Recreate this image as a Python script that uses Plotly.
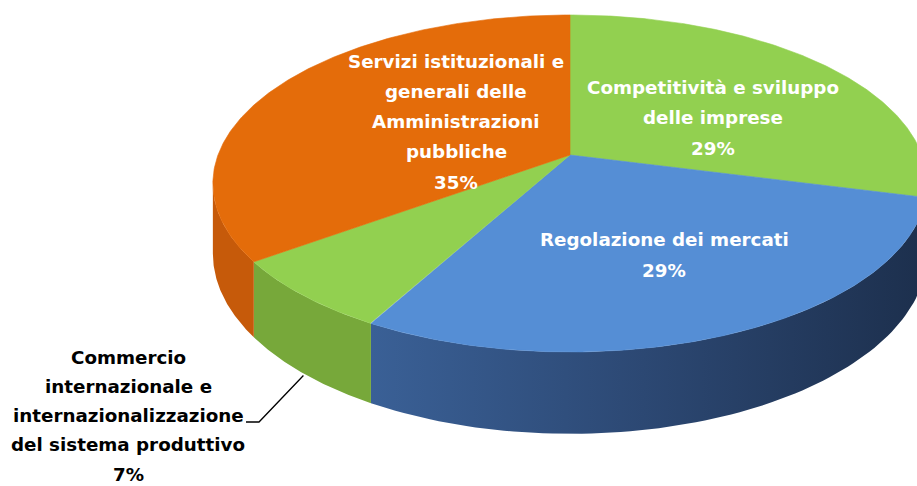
import numpy as np
import plotly.graph_objects as go

# ---------------- data ----------------
categories = [
    "Competitività e sviluppo delle imprese",
    "Regolazione dei mercati",
    "Commercio internazionale e internazionalizzazione del sistema produttivo",
    "Servizi istituzionali e generali delle Amministrazioni pubbliche",
]
values = [29, 29, 7, 35]
label_lines = [
    ["Competitività e sviluppo", "delle imprese"],
    ["Regolazione dei mercati"],
    ["Commercio", "internazionale e", "internazionalizzazione", "del sistema produttivo"],
    ["Servizi istituzionali e", "generali delle", "Amministrazioni", "pubbliche"],
]

# ---------------- style / layout ----------------
top_colors = ["#92D050", "#558ED5", "#92D050", "#E46C0A"]
side_colors = ["#79AD3C", None, "#77A83A", "#C65A0A"]
blue_side_scale = [[0, "#3A6096"], [0.5, "#2C4873"], [1, "#1D304E"]]
label_font_colors = ["white", "white", "black", "white"]
label_anchor = [(713, 87), (664, 239), (128, 357), (456, 61)]
label_spacing = [30.5, 31, 29.3, 30.3]
FONT = dict(family="DejaVu Sans", size=18.3, weight="bold")

W, H = 917, 486
CX, CY = 570, 155       # apex of the pie on screen
A, B = 352, 163.7       # horizontal / vertical radii
K = 0.169               # perspective factor
T = 68                  # thickness


def proj(theta_deg, drop=0.0):
    t = np.radians(theta_deg)
    x, y = np.sin(t), np.cos(t)
    s = 1.0 / (1.0 + K * y)
    return CX + A * x * s, CY - B * y * s + drop * s


total = float(sum(values))
bounds = np.concatenate([[0], np.cumsum(values)]) / total * 360.0
theta_r = np.degrees(np.arccos(-K))
theta_l = 360 - theta_r

fig = go.Figure()

# side walls (front, visible part)
for i in range(len(values)):
    a, b = max(bounds[i], theta_r), min(bounds[i + 1], theta_l)
    if b <= a:
        continue
    th = np.linspace(a, b, 80)
    xt, yt = proj(th)
    xb, yb = proj(th[::-1], T)
    xs = np.concatenate([xt, xb, xt[:1]])
    ys = np.concatenate([yt, yb, yt[:1]])
    if side_colors[i] is None:
        fig.add_trace(go.Scatter(
            x=xs, y=ys, mode="lines", fill="toself", line=dict(width=0),
            fillgradient=dict(type="horizontal", colorscale=blue_side_scale,
                              start=float(xs.min()), stop=917.0),
            hoverinfo="skip", showlegend=False))
    else:
        fig.add_trace(go.Scatter(
            x=xs, y=ys, mode="lines", fill="toself", line=dict(width=0),
            fillcolor=side_colors[i], hoverinfo="skip", showlegend=False))

# top faces
for i in range(len(values)):
    th = np.linspace(bounds[i], bounds[i + 1], 200)
    xr, yr = proj(th)
    xs = np.concatenate([[CX], xr, [CX]])
    ys = np.concatenate([[CY], yr, [CY]])
    fig.add_trace(go.Scatter(
        x=xs, y=ys, mode="lines", fill="toself", line=dict(width=0.6, color=top_colors[i]),
        fillcolor=top_colors[i], name=categories[i], hoverinfo="name", showlegend=False))

# leader line for the small slice
mid = (bounds[2] + bounds[3]) / 2
lx, ly = proj(mid, T)
fig.add_trace(go.Scatter(
    x=[246, 259, lx], y=[422, 422, ly + 2], mode="lines",
    line=dict(color="black", width=1.3), hoverinfo="skip", showlegend=False))

# labels
for i in range(len(values)):
    lines = label_lines[i] + [f"{values[i]}%"]
    x0, y0 = label_anchor[i]
    for j, txt in enumerate(lines):
        fig.add_annotation(
            x=x0, y=y0 + j * label_spacing[i], text=txt, showarrow=False,
            xanchor="center", yanchor="middle",
            font=dict(FONT, color=label_font_colors[i]))

fig.update_layout(
    width=W, height=H, margin=dict(l=0, r=0, t=0, b=0),
    paper_bgcolor="white", plot_bgcolor="white",
    xaxis=dict(range=[0, W], visible=False, fixedrange=True),
    yaxis=dict(range=[H, 0], visible=False, fixedrange=True),
    showlegend=False,
)

fig.write_html("out.html", config={"displayModeBar": False})

# remove the default page margin so the figure sits at the window's corner
with open("out.html", encoding="utf-8") as f:
    html = f.read()
html = html.replace("<head>", "<head><style>html,body{margin:0;padding:0;overflow:hidden}</style>", 1)
with open("out.html", "w", encoding="utf-8") as f:
    f.write(html)
